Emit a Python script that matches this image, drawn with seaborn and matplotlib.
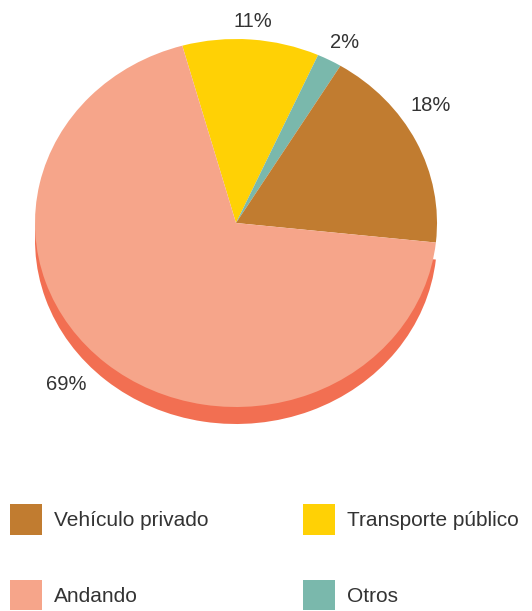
import matplotlib
matplotlib.use("Agg")
import numpy as np
import matplotlib.pyplot as plt
import matplotlib.patches as mpatches
import seaborn as sns

# Data (legend order)
categories = ["Vehículo privado", "Transporte público", "Andando", "Otros"]
values = [18, 11, 69, 2]
colors = ["#C17C30", "#FFD105", "#F6A58A", "#7AB8AC"]
shadow_color = "#F26F52"

# order the slices are drawn clockwise from the start angle
pie_order = ["Transporte público", "Otros", "Vehículo privado", "Andando"]

sns.set_theme(style="white")
plt.rcParams["font.family"] = ["Liberation Sans", "DejaVu Sans"]

W, H = 532, 611
fig = plt.figure(figsize=(W / 100, H / 100), dpi=100)
ax = fig.add_axes([0, 0, 1, 1])

cx, cy = 236, 223     # pie centre in pixels (from top)
rx, ry = 201, 184     # pie radii in pixels
depth = 17            # 3D depth in pixels

idx = [categories.index(c) for c in pie_order]
vals = [values[i] for i in idx]
cols = [colors[i] for i in idx]
shadow_cols = [shadow_color if c == "Andando" else "none" for c in pie_order]

# shadow (side of the 3D pie)
ax.pie(vals, colors=shadow_cols, startangle=105.5, counterclock=False,
       center=(0, -depth / ry), radius=1, wedgeprops=dict(linewidth=0))

# top face
wedges, texts, autotexts = ax.pie(
    vals, colors=cols, startangle=105.5, counterclock=False,
    center=(0, 0), radius=1, wedgeprops=dict(linewidth=0),
    autopct=lambda p: f"{p:.0f}%", pctdistance=1.1,
    textprops=dict(color="#333333", fontsize=14.5))

# label placement style: (radius, angle nudge in degrees, horizontal alignment)
label_style = {
    "Transporte público": (1.1, 0, "center"),
    "Otros": (1.12, -1, "center"),
    "Vehículo privado": (1.16, 7, "center"),
    "Andando": (1.15, 0, "right"),
}
for w, t, name in zip(wedges, autotexts, pie_order):
    r, nudge, ha = label_style[name]
    ang = np.deg2rad((w.theta1 + w.theta2) / 2 + nudge)
    t.set_position((r * np.cos(ang), r * np.sin(ang)))
    t.set_ha(ha)

ax.set_aspect("auto")
ax.set_xlim(-cx / rx, (W - cx) / rx)
ax.set_ylim(-(H - cy) / ry, cy / ry)
ax.axis("off")

# legend, filled row by row (two columns)
fs = 15
fs_px = fs * 100 / 72
order = [0, 2, 1, 3]
handles = [mpatches.Patch(facecolor=colors[i], edgecolor="none") for i in order]
labels = [categories[i] for i in order]
leg = fig.legend(handles, labels, loc="upper left",
                 bbox_to_anchor=(10 / W, 1 - 504 / H), ncol=2,
                 frameon=False, fontsize=fs, borderpad=0, borderaxespad=0,
                 handlelength=32 / fs_px, handleheight=32 / fs_px * 1.23,
                 handletextpad=12 / fs_px, columnspacing=4.55,
                 labelspacing=(77 - 32) / fs_px, labelcolor="#333333")

fig.savefig("out.png", dpi=100)
